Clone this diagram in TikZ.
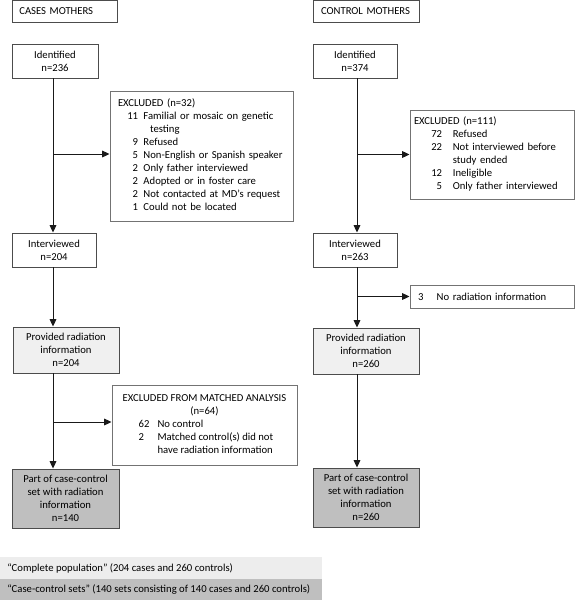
\documentclass[tikz,border=0pt]{standalone}
\usepackage{fontspec}
\setmainfont{Carlito}
\usetikzlibrary{arrows.meta}
\begin{document}
\begin{tikzpicture}[x=0.75pt,y=-0.75pt,
  font=\fontsize{8}{9.75}\selectfont,
  box/.style={draw=black!70, line width=0.7pt, align=center, inner sep=0pt},
  hdr/.style={box, align=left, inner xsep=5.5pt, minimum height=16.5pt},
  exbox/.style={draw=black!55, line width=0.7pt, align=left, inner sep=0pt},
  lightfill/.style={fill=black!6},
  darkfill/.style={fill=black!25},
  band/.style={anchor=north west, minimum width=241.5pt, inner sep=0pt},
  legtext/.style={anchor=west, inner sep=0pt},
  arr/.style={draw=black!90, line width=0.7pt, -{Triangle[length=5.5pt,width=5pt]}},
  ln/.style={draw=black!90, line width=0.7pt}
]
\useasboundingbox (0,0) rectangle (575,600);

% legend bands
\node[band, fill=black!7, minimum height=16.5pt] (legA) at (0,557) {};
\node[band, fill=black!25, minimum height=15.75pt] (legB) at (0,579) {};
\node[legtext] (legAt) at ([xshift=5.25pt]legA.west) {“Complete population” (204 cases and 260 controls)};
\node[legtext] (legBt) at ([xshift=5.25pt]legB.west) {“Case-control sets” (140 sets consisting of 140 cases and 260 controls)};

% cases column
\node[hdr, minimum width=78.75pt, text width=67.75pt] (casesT) at (64.5,11.5) {CASES MOTHERS};
\node[box, minimum width=64.5pt, minimum height=25.5pt] (idA) at (55,61) {Identified\\n=236};
\node[box, minimum width=63pt, minimum height=25.5pt] (intA) at (54,250) {Interviewed\\n=204};
\node[box, lightfill, minimum width=79.5pt, minimum height=34.5pt] (radA) at (66,350) {Provided radiation\\information\\n=204};
\node[box, darkfill, minimum width=80.25pt, minimum height=44.25pt] (partA) at (65.5,498.5) {Part of case-control\\set with radiation\\information\\n=140};

\node[exbox, minimum width=137.25pt, minimum height=97.5pt, inner xsep=6pt, text width=125.25pt] (exA) at (201.5,156) {%
\begin{tabular}{@{\hspace{7pt}}r@{\hspace{4pt}}l@{}}
\multicolumn{2}{@{}l}{EXCLUDED (n=32)}\\
11 & Familial or mosaic on genetic\\
   & \hspace{5pt}testing\\
9 & Refused\\
5 & Non-English or Spanish speaker\\
2 & Only father interviewed\\
2 & Adopted or in foster care\\
2 & Not contacted at MD’s request\\
1 & Could not be located
\end{tabular}};

\node[exbox, minimum width=138.75pt, minimum height=60pt, align=center] (exmA) at (204.5,425) {%
\begin{tabular}{@{\hspace{12pt}}l@{\hspace{6pt}}l@{}}
\multicolumn{2}{@{}c@{}}{EXCLUDED FROM MATCHED ANALYSIS}\\
\multicolumn{2}{@{}c@{}}{(n=64)}\\
62 & No control\\
2 & Matched control(s) did not\\
  & have radiation information
\end{tabular}};

% control column
\node[hdr, minimum width=79.5pt, text width=67.5pt, inner xsep=6pt] (ctrlT) at (366,11.5) {CONTROL MOTHERS};
\node[box, minimum width=63pt, minimum height=25.5pt] (idB) at (355,61) {Identified\\n=374};
\node[box, minimum width=63pt, minimum height=25.5pt] (intB) at (355,250) {Interviewed\\n=263};
\node[box, lightfill, minimum width=79.5pt, minimum height=34.5pt] (radB) at (366,351) {Provided radiation\\information\\n=260};
\node[box, darkfill, minimum width=79.5pt, minimum height=44.25pt] (partB) at (366,497.5) {Part of case-control\\set with radiation\\information\\n=260};

\node[exbox, minimum width=123pt, minimum height=66.75pt, inner xsep=3pt, text width=117pt] (exB) at (492,154.5) {%
\begin{tabular}{@{\hspace{13pt}}r@{\hspace{8pt}}l@{}}
\multicolumn{2}{@{}l}{EXCLUDED (n=111)}\\
72 & Refused\\
22 & Not interviewed before\\
   & study ended\\
12 & Ineligible\\
5 & Only father interviewed
\end{tabular}};

\node[exbox, minimum width=123pt, minimum height=17.25pt, inner xsep=6pt, text width=111pt] (noradB) at (492,296.5) {3\hspace{10pt}No radiation information};

% column coordinates
\coordinate (xA) at (53,0);
\coordinate (xB) at (357,0);
\coordinate (brA1) at (53,154);
\coordinate (brA2) at (53,422);

% cases connectors
\draw[arr] (idA.south -| xA) -- (intA.north -| xA);
\draw[arr] (brA1) -- (brA1 -| exA.west);
\draw[arr] (intA.south -| xA) -- (radA.north -| xA);
\draw[arr] (radA.south -| xA) -- (partA.north -| xA);
\draw[arr] (brA2) -- (brA2 -| exmA.west);

% control connectors
\draw[arr] (idB.south -| xB) -- (intB.north -| xB);
\draw[arr] (xB |- exB.west) -- (exB.west);
\draw[arr] (intB.south -| xB) -- (radB.north -| xB);
\draw[arr] (xB |- noradB.west) -- (noradB.west);
\draw[arr] (radB.south -| xB) -- (partB.north -| xB);
\end{tikzpicture}
\end{document}
